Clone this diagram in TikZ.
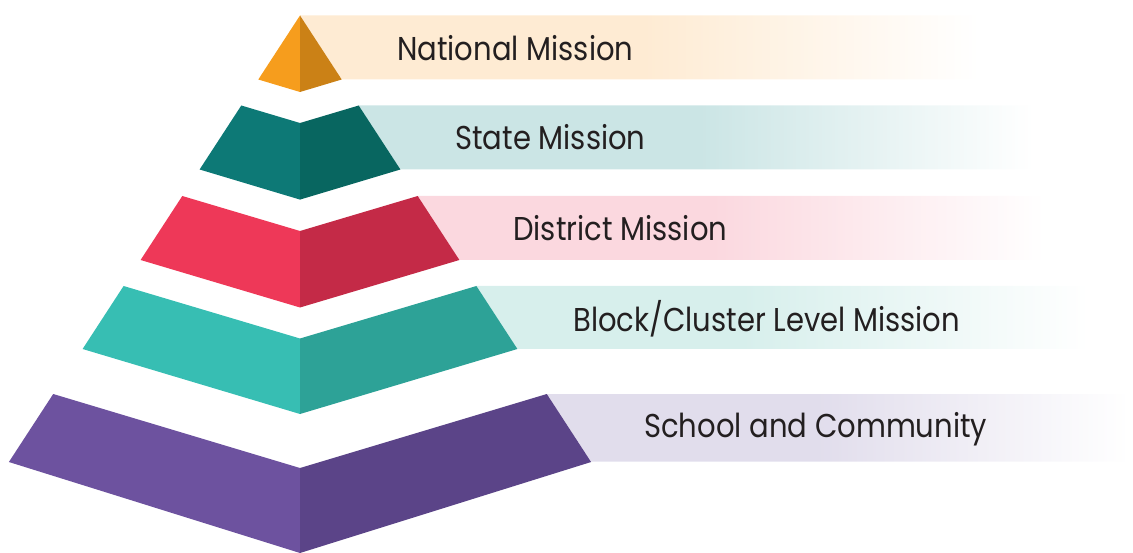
\documentclass[tikz,border=0pt]{standalone}
\usepackage{xcolor}
\usepackage{fontspec}
\setmainfont[FakeStretch=0.88]{Poppins}
\usepackage{tikz}
\usetikzlibrary{calc}

\definecolor{ink}{HTML}{231F20}
\definecolor{natL}{HTML}{F69D1D}
\definecolor{natR}{HTML}{CB8116}
\definecolor{natB}{HTML}{FEEBD3}
\definecolor{staL}{HTML}{0D7976}
\definecolor{staR}{HTML}{086660}
\definecolor{staB}{HTML}{CBE5E5}
\definecolor{disL}{HTML}{EE3858}
\definecolor{disR}{HTML}{C42A47}
\definecolor{disB}{HTML}{FBD8DF}
\definecolor{bloL}{HTML}{37BEB3}
\definecolor{bloR}{HTML}{2DA297}
\definecolor{bloB}{HTML}{D7EFEC}
\definecolor{schL}{HTML}{6D529F}
\definecolor{schR}{HTML}{5B4488}
\definecolor{schB}{HTML}{E1DDEC}

\pgfdeclarehorizontalshading{natband}{100bp}{color(0bp)=(natB); color(45.6bp)=(natB); color(65.8bp)=(white); color(100bp)=(white)}
\pgfdeclarehorizontalshading{staband}{100bp}{color(0bp)=(staB); color(47bp)=(staB); color(68.6bp)=(white); color(100bp)=(white)}
\pgfdeclarehorizontalshading{disband}{100bp}{color(0bp)=(disB); color(45.6bp)=(disB); color(68.8bp)=(white); color(100bp)=(white)}
\pgfdeclarehorizontalshading{bloband}{100bp}{color(0bp)=(bloB); color(45.2bp)=(bloB); color(71.6bp)=(white); color(100bp)=(white)}
\pgfdeclarehorizontalshading{schband}{100bp}{color(0bp)=(schB); color(47.9bp)=(schB); color(74.7bp)=(white); color(100bp)=(white)}

\begin{document}
\begin{tikzpicture}
[x = 1pt,
 y = -1pt,
 lvl/.style = {anchor = base west, inner sep = 0pt, text = ink,
               font = \fontsize{33}{40}\selectfont}]

\useasboundingbox (0,0) rectangle (1133,553);

\shade[shading = natband] (300,15.5) -- (1133,15.5) -- (1133,79.5) -- (341.7,79.5) -- cycle;
\shade[shading = staband] (358.7,105.5) -- (1133,105.5) -- (1133,169.5) -- (400.4,169.5) -- cycle;
\shade[shading = disband] (417.7,196) -- (1133,196) -- (1133,260) -- (459.4,260) -- cycle;
\shade[shading = bloband] (476.4,286) -- (1133,286) -- (1133,349) -- (517.4,349) -- cycle;
\shade[shading = schband] (546.8,394) -- (1133,394) -- (1133,461.5) -- (591.1,461.5) -- cycle;

\fill[natL] (300,15.5) -- (258.3,79.5) -- (300,92) -- cycle;
\fill[natR] (300,15.5) -- (341.7,79.5) -- (300,92) -- cycle;

\fill[staL] (241.3,105.5) -- (300,123) -- (300,199.6) -- (199.6,169.5) -- cycle;
\fill[staR] (358.7,105.5) -- (300,123) -- (300,199.6) -- (400.4,169.5) -- cycle;

\fill[disL] (182.3,196) -- (300,231) -- (300,307.5) -- (140.6,260) -- cycle;
\fill[disR] (417.7,196) -- (300,231) -- (300,307.5) -- (459.4,260) -- cycle;

\fill[bloL] (123.6,286) -- (300,338.5) -- (300,414) -- (82.6,349) -- cycle;
\fill[bloR] (476.4,286) -- (300,338.5) -- (300,414) -- (517.4,349) -- cycle;

\fill[schL] (53.2,394) -- (300,468) -- (300,553) -- (8.9,462) -- cycle;
\fill[schR] (546.8,394) -- (300,468) -- (300,553) -- (591.1,462) -- cycle;

\node[lvl] (nat) at (397,61) {National Mission};
\node[lvl] (sta) at (455,150) {State Mission};
\node[lvl] (dis) at (513,241) {District Mission};
\node[lvl] (blo) at (573,332) {Block/Cluster Level Mission};
\node[lvl] (sch) at (644,437) {School and Community};

\end{tikzpicture}
\end{document}
